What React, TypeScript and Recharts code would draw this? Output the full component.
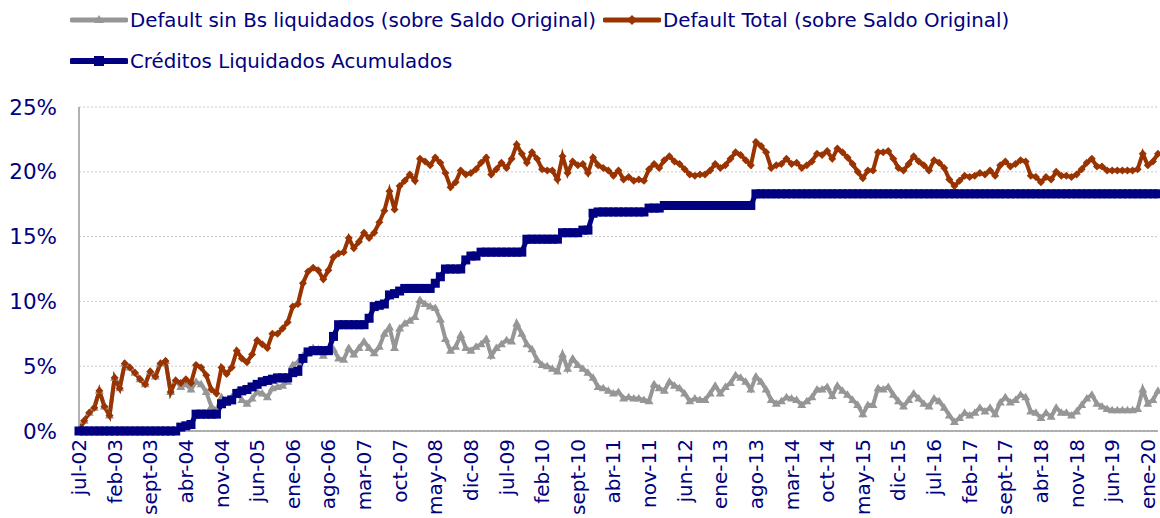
import React from "react";
import { LineChart, Line, XAxis, YAxis, CartesianGrid } from "recharts";

const MONTHS = ["ene", "feb", "mar", "abr", "may", "jun", "jul", "ago", "sept", "oct", "nov", "dic"];
const FIRST_YEAR = 2002;
const FIRST_MONTH = 6; // jul-02

// Default sin Bs liquidados (sobre Saldo Original), %
const defaultSinBs = [
  0.0, 0.8, 1.4, 1.8, 3.1, 1.9, 1.2, 4.1, 3.3, 5.2,
  4.9, 4.5, 4.0, 3.6, 4.6, 4.2, 5.2, 5.4, 3.0, 3.9,
  3.4, 3.6, 3.2, 3.8, 3.6, 3.0, 1.9, 1.6, 2.6, 2.2,
  2.6, 3.0, 2.4, 2.1, 2.5, 3.0, 2.9, 2.6, 3.3, 3.4,
  3.5, 3.8, 5.1, 5.3, 5.8, 6.1, 6.4, 6.3, 5.8, 6.2,
  6.3, 5.6, 5.5, 6.4, 5.9, 6.4, 6.9, 6.4, 6.0, 6.5,
  7.5, 8.0, 6.4, 7.9, 8.3, 8.5, 8.8, 10.1, 9.8, 9.6,
  9.5, 8.6, 7.1, 6.2, 6.5, 7.4, 6.4, 6.2, 6.5, 6.7,
  7.1, 5.8, 6.4, 6.7, 7.0, 6.9, 8.3, 7.5, 6.7, 6.3,
  5.5, 5.1, 5.0, 4.8, 4.6, 5.9, 4.8, 5.6, 5.1, 4.8,
  4.5, 4.1, 3.4, 3.3, 3.1, 2.9, 3.0, 2.5, 2.6, 2.5,
  2.5, 2.4, 2.3, 3.6, 3.3, 3.1, 3.8, 3.5, 3.3, 2.9,
  2.3, 2.5, 2.4, 2.4, 2.9, 3.5, 2.9, 3.4, 3.7, 4.3,
  4.1, 3.8, 3.2, 4.2, 3.8, 3.2, 2.4, 2.1, 2.3, 2.6,
  2.5, 2.4, 2.0, 2.3, 2.6, 3.2, 3.2, 3.4, 2.7, 3.5,
  3.1, 2.8, 2.4, 2.0, 1.3, 2.0, 2.0, 3.3, 3.2, 3.4,
  2.8, 2.3, 1.9, 2.4, 2.9, 2.5, 2.1, 1.9, 2.5, 2.3,
  1.8, 1.2, 0.7, 1.0, 1.4, 1.2, 1.4, 1.8, 1.5, 1.8,
  1.3, 2.2, 2.6, 2.2, 2.4, 2.8, 2.6, 1.5, 1.4, 1.0,
  1.4, 1.1, 1.8, 1.4, 1.4, 1.2, 1.5, 2.0, 2.5, 2.8,
  2.1, 1.9, 1.7, 1.6, 1.6, 1.6, 1.6, 1.6, 1.7, 3.2,
  2.1, 2.4, 3.1,
];

// Default Total (sobre Saldo Original), %
const defaultTotal = [
  0.0, 0.8, 1.4, 1.8, 3.1, 1.9, 1.2, 4.1, 3.3, 5.2,
  4.9, 4.5, 4.0, 3.6, 4.6, 4.2, 5.2, 5.4, 3.0, 3.9,
  3.7, 4.0, 3.7, 5.1, 4.9, 4.3, 3.2, 2.9, 4.9, 4.4,
  4.9, 6.2, 5.6, 5.3, 5.9, 7.0, 6.7, 6.4, 7.5, 7.5,
  7.9, 8.4, 9.6, 9.8, 11.4, 12.3, 12.6, 12.4, 11.7, 12.4,
  13.4, 13.7, 13.8, 14.9, 14.1, 14.6, 15.3, 14.9, 15.3, 16.1,
  17.0, 18.5, 17.1, 18.9, 19.3, 19.8, 19.3, 21.0, 20.8, 20.5,
  21.1, 20.7, 19.9, 18.8, 19.2, 20.1, 19.8, 19.9, 20.2, 20.7,
  21.1, 19.8, 20.2, 20.7, 20.3, 21.0, 22.1, 21.4, 20.7, 21.5,
  21.0, 20.2, 20.1, 20.1, 19.4, 21.2, 19.9, 20.8, 20.5, 20.6,
  19.9, 21.1, 20.5, 20.3, 20.1, 19.7, 20.1, 19.4, 19.6, 19.3,
  19.4, 19.3, 20.2, 20.6, 20.3, 20.9, 21.2, 20.8, 20.6, 20.2,
  19.8, 19.7, 19.8, 19.8, 20.1, 20.6, 20.3, 20.5, 21.0, 21.5,
  21.3, 20.9, 20.5, 22.3, 22.0, 21.5, 20.3, 20.5, 20.6, 21.0,
  20.6, 20.7, 20.3, 20.5, 20.8, 21.4, 21.3, 21.6, 21.0, 21.8,
  21.5, 21.1, 20.6, 20.0, 19.5, 20.1, 20.1, 21.5, 21.5, 21.6,
  21.0, 20.3, 20.1, 20.6, 21.2, 20.8, 20.5, 20.1, 20.9, 20.7,
  20.3, 19.4, 18.9, 19.3, 19.7, 19.6, 19.7, 19.9, 19.8, 20.1,
  19.7, 20.5, 20.8, 20.4, 20.6, 20.9, 20.8, 19.7, 19.6, 19.2,
  19.6, 19.4, 20.0, 19.7, 19.7, 19.6, 19.8, 20.2, 20.7, 21.0,
  20.4, 20.4, 20.1, 20.1, 20.1, 20.1, 20.1, 20.1, 20.2, 21.4,
  20.5, 20.8, 21.4,
];

// Créditos Liquidados Acumulados, %
const creditosLiquidados = [
  0, 0, 0, 0, 0, 0, 0, 0, 0, 0,
  0, 0, 0, 0, 0, 0, 0, 0, 0, 0,
  0.3, 0.4, 0.5, 1.3, 1.3, 1.3, 1.3, 1.3, 2.1, 2.3,
  2.4, 2.9, 3.1, 3.2, 3.4, 3.6, 3.8, 3.9, 4.0, 4.1,
  4.1, 4.1, 4.5, 4.6, 5.6, 6.1, 6.2, 6.2, 6.2, 6.2,
  7.3, 8.2, 8.2, 8.2, 8.2, 8.2, 8.2, 8.7, 9.6, 9.7,
  9.8, 10.5, 10.6, 10.8, 11.0, 11.0, 11.0, 11.0, 11.0, 11.0,
  11.4, 11.9, 12.5, 12.5, 12.5, 12.5, 13.2, 13.5, 13.5, 13.8,
  13.8, 13.8, 13.8, 13.8, 13.8, 13.8, 13.8, 13.8, 14.8, 14.8,
  14.8, 14.8, 14.8, 14.8, 14.8, 15.3, 15.3, 15.3, 15.3, 15.5,
  15.5, 16.8, 16.9, 16.9, 16.9, 16.9, 16.9, 16.9, 16.9, 16.9,
  16.9, 16.9, 17.2, 17.2, 17.2, 17.4, 17.4, 17.4, 17.4, 17.4,
  17.4, 17.4, 17.4, 17.4, 17.4, 17.4, 17.4, 17.4, 17.4, 17.4,
  17.4, 17.4, 17.4, 18.3, 18.3, 18.3, 18.3, 18.3, 18.3, 18.3,
  18.3, 18.3, 18.3, 18.3, 18.3, 18.3, 18.3, 18.3, 18.3, 18.3,
  18.3, 18.3, 18.3, 18.3, 18.3, 18.3, 18.3, 18.3, 18.3, 18.3,
  18.3, 18.3, 18.3, 18.3, 18.3, 18.3, 18.3, 18.3, 18.3, 18.3,
  18.3, 18.3, 18.3, 18.3, 18.3, 18.3, 18.3, 18.3, 18.3, 18.3,
  18.3, 18.3, 18.3, 18.3, 18.3, 18.3, 18.3, 18.3, 18.3, 18.3,
  18.3, 18.3, 18.3, 18.3, 18.3, 18.3, 18.3, 18.3, 18.3, 18.3,
  18.3, 18.3, 18.3, 18.3, 18.3, 18.3, 18.3, 18.3, 18.3, 18.3,
  18.3, 18.3, 18.3,
];

const yTicks = [0, 5, 10, 15, 20, 25];

// month labels jul-02, ago-02, ... one per data point
const categories = defaultTotal.map((_, i) => {
  const m = FIRST_MONTH + i;
  const yy = (FIRST_YEAR + Math.floor(m / 12)) % 100;
  return `${MONTHS[m % 12]}-${String(yy).padStart(2, "0")}`;
});

const data = categories.map((month, i) => ({
  month,
  sinBs: defaultSinBs[i],
  total: defaultTotal[i],
  liquidados: creditosLiquidados[i],
}));

const NAVY = "#000080";
const GRAY = "#969696";
const BROWN = "#993300";
const FONT = "'DejaVu Sans', Verdana, sans-serif";

const triangle = (props: any) => {
  const { cx, cy, index } = props;
  if (cx == null || cy == null) return <g key={`t${index}`} />;
  return <path key={`t${index}`} d={`M${cx},${cy - 4.5} L${cx + 4.5},${cy + 3} L${cx - 4.5},${cy + 3} Z`} fill={GRAY} />;
};

const diamond = (props: any) => {
  const { cx, cy, index } = props;
  if (cx == null || cy == null) return <g key={`d${index}`} />;
  return <path key={`d${index}`} d={`M${cx},${cy - 4} L${cx + 4},${cy} L${cx},${cy + 4} L${cx - 4},${cy} Z`} fill={BROWN} />;
};

const square = (props: any) => {
  const { cx, cy, index } = props;
  if (cx == null || cy == null) return <g key={`s${index}`} />;
  return <rect key={`s${index}`} x={cx - 4.5} y={cy - 4.5} width={9} height={9} fill={NAVY} />;
};

const XTick = (props: any) => {
  const { x, y, payload } = props;
  return (
    <text
      x={x}
      y={y}
      dy="0.35em"
      transform={`rotate(-90 ${x} ${y})`}
      textAnchor="end"
      fill={NAVY}
      fontSize={20}
      fontFamily={FONT}
    >
      {payload.value}
    </text>
  );
};

const LegendSymbol = ({ color, width, marker }: { color: string; width: number; marker: string }) => (
  <svg width={58} height={16} style={{ display: "block" }}>
    <line x1={2} y1={8} x2={56} y2={8} stroke={color} strokeWidth={width} strokeLinecap="round" />
    {marker === "triangle" && <path d="M29,3 L34,11 L24,11 Z" fill={color} />}
    {marker === "diamond" && <path d="M29,3 L34,8 L29,13 L24,8 Z" fill={color} />}
    {marker === "square" && <rect x={24} y={3} width={10} height={10} fill={color} />}
  </svg>
);

const legendItems = [
  { label: "Default sin Bs liquidados (sobre Saldo Original)", color: GRAY, width: 5, marker: "triangle", left: 70, top: 20 },
  { label: "Default Total (sobre Saldo Original)", color: BROWN, width: 5, marker: "diamond", left: 603, top: 20 },
  { label: "Créditos Liquidados Acumulados", color: NAVY, width: 6, marker: "square", left: 70, top: 61 },
];

export default function App() {
  return (
    <div style={{ position: "absolute", left: 0, top: 0, width: 1160, height: 518, background: "#fff", overflow: "hidden" }}>
      {legendItems.map((it) => (
        <div
          key={it.label}
          style={{
            position: "absolute",
            left: it.left,
            top: it.top - 12,
            height: 24,
            display: "flex",
            alignItems: "center",
            gap: 2,
            fontFamily: FONT,
            fontSize: 19.8,
            color: NAVY,
            whiteSpace: "nowrap",
          }}
        >
          <LegendSymbol color={it.color} width={it.width} marker={it.marker} />
          <span>{it.label}</span>
        </div>
      ))}
      <div style={{ position: "absolute", left: 0, top: 0 }}>
        <LineChart width={1160} height={518} data={data} margin={{ top: 107, right: 2, left: 0, bottom: 0 }}>
          <CartesianGrid vertical={false} stroke="#c8c8c8" strokeDasharray="2 2" />
          <XAxis
            dataKey="month"
            interval={6}
            height={87}
            tick={<XTick />}
            tickLine={false}
            tickSize={0}
            tickMargin={8}
            axisLine={{ stroke: "#999999", strokeWidth: 1.5 }}
          />
          <YAxis
            type="number"
            domain={[0, 25]}
            ticks={yTicks}
            width={79}
            tickFormatter={(v: number) => `${v}%`}
            tickLine={false}
            tickSize={0}
            tickMargin={22}
            axisLine={{ stroke: "#999999", strokeWidth: 1.5 }}
            tick={{ fill: NAVY, fontSize: 21.5, fontFamily: FONT }}
          />
          <Line
            dataKey="sinBs"
            type="linear"
            stroke={GRAY}
            strokeWidth={4}
            dot={triangle}
            activeDot={false}
            isAnimationActive={false}
          />
          <Line
            dataKey="total"
            type="linear"
            stroke={BROWN}
            strokeWidth={4}
            dot={diamond}
            activeDot={false}
            isAnimationActive={false}
          />
          <Line
            dataKey="liquidados"
            type="linear"
            stroke={NAVY}
            strokeWidth={5}
            dot={square}
            activeDot={false}
            isAnimationActive={false}
          />
        </LineChart>
      </div>
    </div>
  );
}
